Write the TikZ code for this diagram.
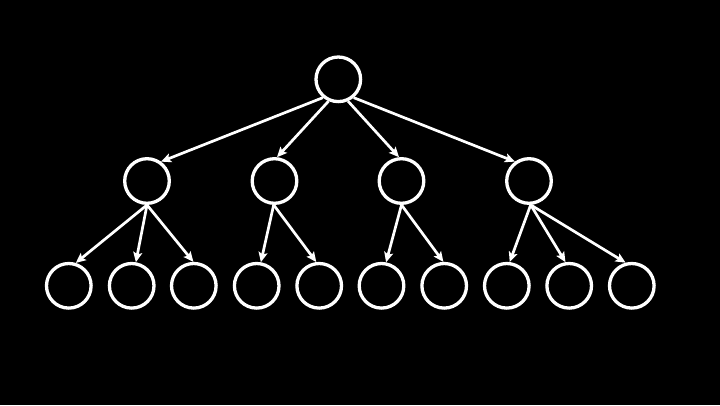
\documentclass[tikz,border=0pt]{standalone}
\usetikzlibrary{arrows.meta}
\begin{document}
\begin{tikzpicture}[x=1pt,y=-1pt,
  tnode/.style={circle,draw=white,line width=3.3pt,minimum size=44.6pt,inner sep=0pt},
  tedge/.style={draw=white,line width=2.7pt,-{Stealth[length=10pt,width=9pt,inset=2pt]}}]
\fill[black] (0,0) rectangle (720,405);
\useasboundingbox (0,0) rectangle (720,405);
% root
\node[tnode] (r) at (338.3,79.3) {};
% level 2
\node[tnode] (a) at (147,181) {};
\node[tnode] (b) at (274.5,181) {};
\node[tnode] (c) at (401.5,181) {};
\node[tnode] (d) at (529,181) {};
% level 3
\node[tnode] (a1) at (68.8,285.8) {};
\node[tnode] (a2) at (131.7,285.8) {};
\node[tnode] (a3) at (193.8,285.8) {};
\node[tnode] (b1) at (256.7,285.8) {};
\node[tnode] (b2) at (319.2,285.8) {};
\node[tnode] (c1) at (381.5,285.8) {};
\node[tnode] (c2) at (444.2,285.8) {};
\node[tnode] (d1) at (506.8,285.8) {};
\node[tnode] (d2) at (569.2,285.8) {};
\node[tnode] (d3) at (631.8,285.8) {};
% edges root
\draw[tedge] (r.230) -- (a.54);
\draw[tedge] (r.246) -- (b.84);
\draw[tedge] (r.294) -- (c.96);
\draw[tedge] (r.310) -- (d.126);
% edges level 2
\draw[tedge] (a.270) -- (a1.73);
\draw[tedge] (a.270) -- (a2.80);
\draw[tedge] (a.270) -- (a3.91);
\draw[tedge] (b.268) -- (b1.80);
\draw[tedge] (b.268) -- (b2.97);
\draw[tedge] (c.270) -- (c1.79);
\draw[tedge] (c.270) -- (c2.92);
\draw[tedge] (d.274) -- (d1.83);
\draw[tedge] (d.274) -- (d2.99);
\draw[tedge] (d.274) -- (d3.105);
\end{tikzpicture}
\end{document}
